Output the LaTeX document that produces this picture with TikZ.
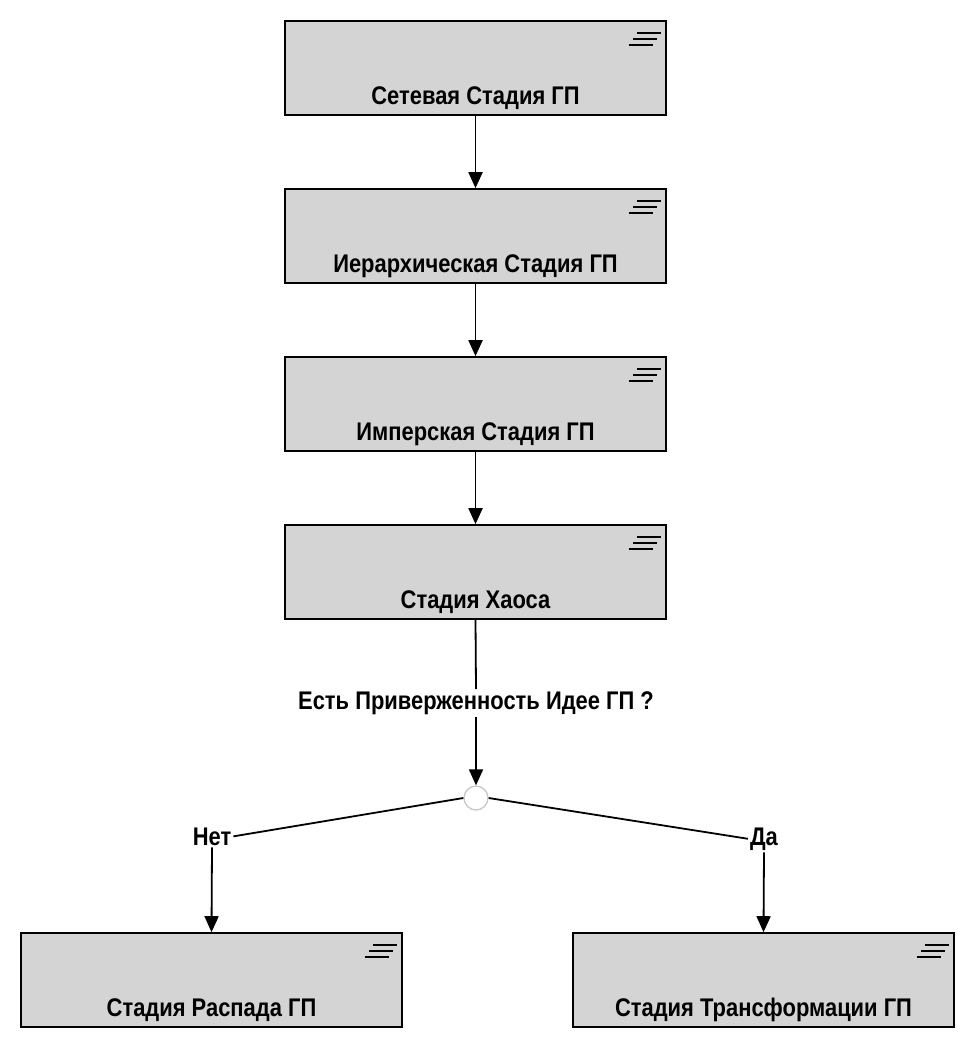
\documentclass[tikz,border=0pt]{standalone}
\usepackage{fontspec}
\setmainfont{Liberation Sans}
\newfontfamily\lblfont[FakeStretch=0.86]{Liberation Sans}
\usetikzlibrary{arrows.meta,calc}
\definecolor{boxgray}{RGB}{212,212,212}
\definecolor{circgray}{RGB}{200,200,200}
\tikzset{
  stagebox/.style={draw=black, line width=1.6pt, fill=boxgray, minimum width=381pt, minimum height=94pt, inner sep=0pt},
  stagetext/.style={font=\lblfont\bfseries\fontsize{25.5}{30}\selectfont, inner sep=0pt, anchor=base},
  lbl/.style={font=\lblfont\bfseries\fontsize{25.5}{30}\selectfont, inner sep=2pt, anchor=base},
  conn/.style={line width=1.8pt, draw=black},
  arr/.style={conn, -{Triangle[length=16pt,width=14pt]}},
  iconline/.style={line width=1.8pt, draw=black}
}
\newcommand\menuicon[1]{%
  \draw[iconline] ($(#1.north east)+(-30,13)$) -- ($(#1.north east)+(-6,13)$);
  \draw[iconline] ($(#1.north east)+(-34,19)$) -- ($(#1.north east)+(-10,19)$);
  \draw[iconline] ($(#1.north east)+(-38,25)$) -- ($(#1.north east)+(-14,25)$);
}
\begin{document}
\begin{tikzpicture}[x=1pt,y=-1pt]
\useasboundingbox (0,0) rectangle (978,1050);
% boxes
\node[stagebox] (s1) at (475.5,68) {};
\node[stagebox] (s2) at (475.5,236) {};
\node[stagebox] (s3) at (475.5,404) {};
\node[stagebox] (s4) at (475.5,572) {};
\node[stagebox] (s5) at (211.5,980) {};
\node[stagebox] (s6) at (763.5,980) {};
\node[stagetext] (t1) at ($(s1.south)+(0,-11)$) {Сетевая Стадия ГП};
\node[stagetext] (t2) at ($(s2.south)+(0,-11)$) {Иерархическая Стадия ГП};
\node[stagetext] (t3) at ($(s3.south)+(0,-11)$) {Имперская Стадия ГП};
\node[stagetext] (t4) at ($(s4.south)+(0,-11)$) {Стадия Хаоса};
\node[stagetext] (t5) at ($(s5.south)+(0,-11)$) {Стадия Распада ГП};
\node[stagetext] (t6) at ($(s6.south)+(0,-11)$) {Стадия Трансформации ГП};
\menuicon{s1}
\menuicon{s2}
\menuicon{s3}
\menuicon{s4}
\menuicon{s5}
\menuicon{s6}
% decision
\node[lbl] (q) at (476,709) {Есть Приверженность Идее ГП ?};
\node[circle, draw=circgray, fill=white, line width=1.3pt, minimum size=24pt, inner sep=0pt] (c) at (476,798) {};
\node[lbl] (no) at (212,845) {Нет};
\node[lbl] (yes) at (764,845) {Да};
% connectors
\draw[arr] (s1.south) -- (s2.north);
\draw[arr] (s2.south) -- (s3.north);
\draw[arr] (s3.south) -- (s4.north);
\draw[conn] (s4.south) -- (q.north);
\draw[arr] (q.south) -- (c.north);
\draw[conn] (c.west) -- (no.east);
\draw[conn] (c.east) -- (yes.west);
\draw[arr] (no.south) -- (s5.north);
\draw[arr] (yes.south) -- (s6.north);
\end{tikzpicture}
\end{document}
